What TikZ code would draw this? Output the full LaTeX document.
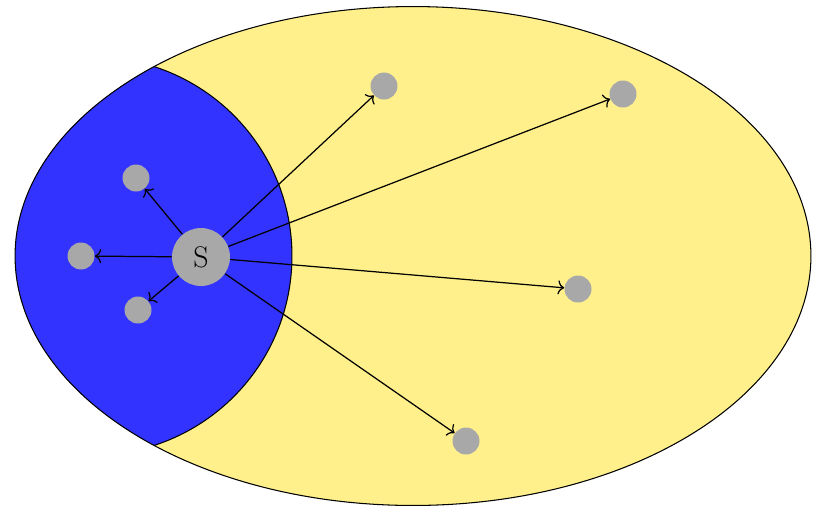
\documentclass[tikz,border=0pt]{standalone}
\usetikzlibrary{positioning,arrows.meta}
\definecolor{regionyellow}{RGB}{255,240,140}
\definecolor{regionblue}{RGB}{51,51,255}
\definecolor{dotgray}{RGB}{168,168,168}
\tikzset{
  source/.style={circle,fill=dotgray,minimum size=1.16cm,inner sep=0pt,font=\fontsize{17}{20}\selectfont},
  target/.style={circle,fill=dotgray,minimum size=0.54cm,inner sep=0pt},
  ray/.style={-{To[length=3.6pt,width=8pt]},line width=0.7pt}
}
\begin{document}
\begin{tikzpicture}[x=0.02cm,y=-0.02cm]
  \useasboundingbox (0,0) rectangle (817,508);

  % --- Outer region ---
  \fill[regionyellow] (413,256) ellipse[x radius=7.96cm,y radius=4.99cm];

  % --- Inner region: disc clipped by the ellipse ---
  \begin{scope}
    \clip (413,256) ellipse[x radius=7.96cm,y radius=4.99cm];
    \fill[regionblue] (93,256) circle[radius=3.98cm];
    \draw[semithick] (93,256) circle[radius=3.98cm];
  \end{scope}
  \draw[semithick] (413,256) ellipse[x radius=7.96cm,y radius=4.99cm];

  % --- Source and targets ---
  \node[source] (s) at (201,257) {S};
  \node[target] (t1) at (136,178) {};
  \node[target] (t2) at (81,256) {};
  \node[target] (t3) at (138,310) {};
  \node[target] (t4) at (384,86) {};
  \node[target] (t5) at (623,94) {};
  \node[target] (t6) at (578,289) {};
  \node[target] (t7) at (466,441) {};

  % --- Rays ---
  \foreach \t in {t1,t2,t3,t4,t5,t6,t7}
    \draw[ray] (s) -- (\t);
\end{tikzpicture}
\end{document}
